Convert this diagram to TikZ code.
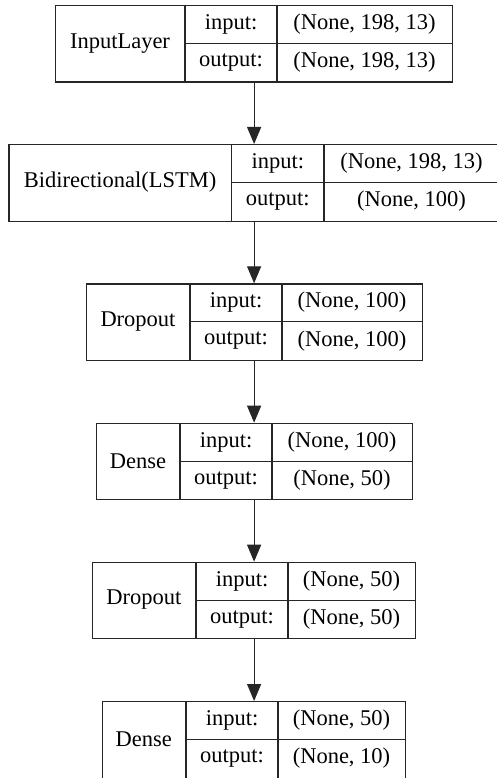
\documentclass[tikz,border=0pt]{standalone}
\usepackage{fontspec}
\setmainfont{Liberation Serif}
\newfontfamily\tmsfont{Liberation Serif}
\usetikzlibrary{arrows.meta}
\tikzset{
  boxline/.style={draw=black!85, line width=1.2pt},
  celltext/.style={inner sep=0pt, font=\tmsfont\fontsize{22.5}{27}\selectfont, text=black},
  arr/.style={draw=black!85, line width=1.2pt, -{Triangle[length=17pt,width=14pt]}, shorten >=0pt}
}
% name, top, left, d1, d2, right, label, in, out
\newcommand\mylayer[9]{%
  \pgfmathsetmacro\lw{#6-#3}%
  \node[boxline, minimum width=\lw pt, minimum height=76.5pt, inner sep=0pt, anchor=north west] (#1) at (#3,#2) {};
  \draw[boxline] (#4,#2) -- (#4,{#2+76.5});
  \draw[boxline] (#5,#2) -- (#5,{#2+76.5});
  \draw[boxline] (#4,{#2+38.5}) -- (#6,{#2+38.5});
  \node[celltext] (#1-lab) at ({(#3+#4)/2},{#2+38.25}) {#7};
  \node[celltext] (#1-ik) at ({(#4+#5)/2},{#2+19.25}) {input:};
  \node[celltext] (#1-iv) at ({(#5+#6)/2},{#2+19.25}) {#8};
  \node[celltext] (#1-ok) at ({(#4+#5)/2},{#2+57.5}) {output:};
  \node[celltext] (#1-ov) at ({(#5+#6)/2},{#2+57.5}) {#9};
}
\begin{document}
\begin{tikzpicture}[x=1pt,y=-1pt]
\useasboundingbox[fill=white] (0,0) rectangle (496,778);
\mylayer{L1}{5}{55}{185}{277}{452}{InputLayer}{(None, 198, 13)}{(None, 198, 13)}
\mylayer{L2}{144}{8.3}{231.7}{324}{499}{Bidirectional(LSTM)}{(None, 198, 13)}{(None, 100)}
\mylayer{L3}{283.3}{86}{190}{282}{422}{Dropout}{(None, 100)}{(None, 100)}
\mylayer{L4}{422.7}{96}{180}{272}{412}{Dense}{(None, 100)}{(None, 50)}
\mylayer{L5}{561.7}{91.7}{196}{288}{415}{Dropout}{(None, 50)}{(None, 50)}
\mylayer{L6}{701}{101.7}{186}{278}{405}{Dense}{(None, 50)}{(None, 10)}
\draw[arr] (L1.south) -- (L1.south |- L2.north);
\draw[arr] (L1.south |- L2.south) -- (L1.south |- L3.north);
\draw[arr] (L1.south |- L3.south) -- (L1.south |- L4.north);
\draw[arr] (L1.south |- L4.south) -- (L1.south |- L5.north);
\draw[arr] (L1.south |- L5.south) -- (L1.south |- L6.north);
\end{tikzpicture}
\end{document}
